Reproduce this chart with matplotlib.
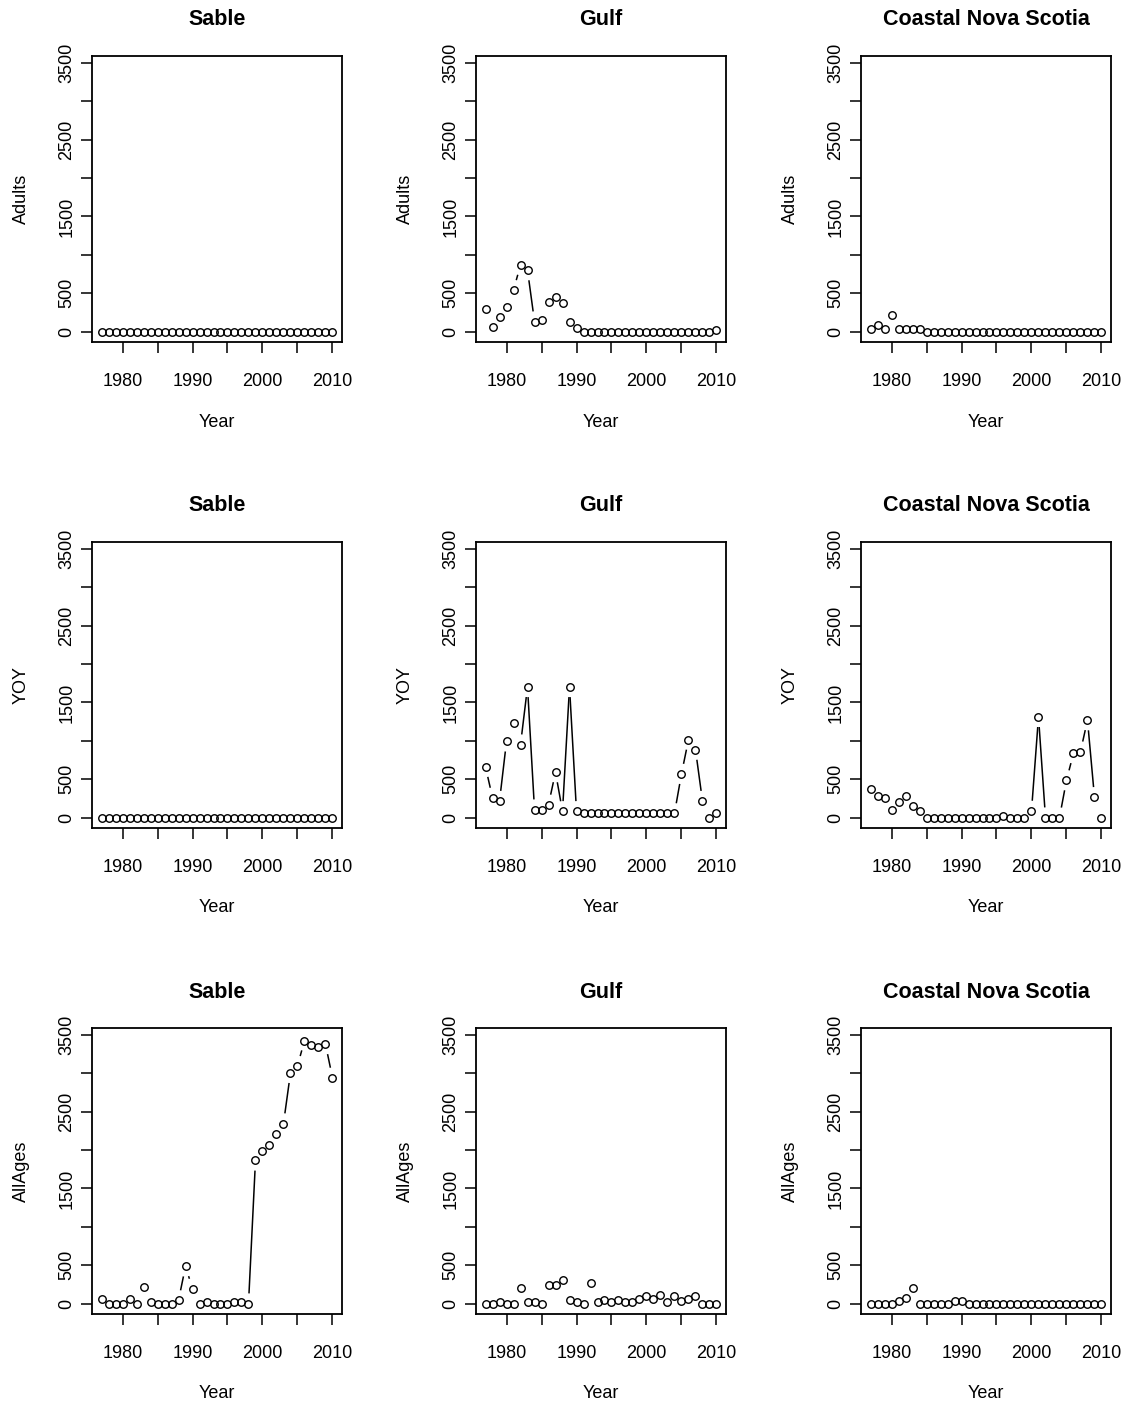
import numpy as np
import matplotlib
matplotlib.use('Agg')
import matplotlib.pyplot as plt

plt.rcParams['font.family'] = ['Liberation Sans', 'DejaVu Sans']

years = list(range(1977, 2011))

regions = ['Sable', 'Gulf', 'Coastal Nova Scotia']
stages = ['Adults', 'YOY', 'AllAges']

sable_adults = [0, 0, 0, 0, 0, 0, 0, 0, 0, 0, 0, 0, 0, 0, 0, 0, 0,
                0, 0, 0, 0, 0, 0, 0, 0, 0, 0, 0, 0, 0, 0, 0, 0, 0]
gulf_adults = [301, 64, 195, 322, 542, 869, 801, 131, 148, 390, 453, 373,
               131, 42, 0, 0, 0, 0, 0, 0, 0, 0, 0, 0, 0, 0, 0, 0, 0, 0,
               0, 0, 0, 21]
cns_adults = [35, 91, 35, 217, 35, 35, 35, 35, 0, 0, 0, 0, 0, 0, 0, 0, 0,
              0, 0, 0, 0, 0, 0, 0, 0, 0, 0, 0, 0, 0, 0, 0, 0, 0]

sable_yoy = [0, 0, 0, 0, 0, 0, 0, 0, 0, 0, 0, 0, 0, 0, 0, 0, 0,
             0, 0, 0, 0, 0, 0, 0, 0, 0, 0, 0, 0, 0, 0, 0, 0, 0]
gulf_yoy = [661, 259, 216, 994, 1236, 951, 1703, 104, 104, 169, 592, 82,
            1703, 82, 56, 56, 56, 56, 56, 56, 56, 56, 56, 56, 56, 56, 56,
            56, 570, 1016, 886, 216, 0, 60]
cns_yoy = [378, 278, 261, 104, 200, 287, 148, 87, 0, 0, 0, 0, 0, 0, 0, 0,
           0, 0, 0, 22, 0, 0, 0, 87, 1313, 0, 0, 0, 487, 839, 861, 1270,
           265, 0]

sable_all = [60, 0, 0, 0, 64, 0, 223, 17, 0, 0, 0, 43, 485, 197, 0, 26, 0,
             0, 0, 21, 21, 0, 1866, 1990, 2063, 2213, 2346, 3006, 3096,
             3427, 3375, 3337, 3380, 2942]
gulf_all = [0, 0, 21, 0, 0, 200, 21, 21, 0, 239, 239, 308, 43, 21, 0, 265,
            21, 43, 21, 43, 21, 21, 64, 94, 56, 115, 21, 94, 30, 56, 98, 0,
            0, 0]
cns_all = [0, 0, 0, 0, 38, 73, 209, 0, 0, 0, 0, 0, 30, 30, 0, 0, 0, 0, 0,
           0, 0, 0, 0, 0, 0, 0, 0, 0, 0, 0, 0, 0, 0, 0]

data = [[sable_adults, gulf_adults, cns_adults],
        [sable_yoy, gulf_yoy, cns_yoy],
        [sable_all, gulf_all, cns_all]]

yticks = [0, 500, 1000, 1500, 2000, 2500, 3000, 3500]
ytick_labels = ['0', '500', '', '1500', '', '2500', '', '3500']
xticks = [1980, 1985, 1990, 1995, 2000, 2005, 2010]
xtick_labels = ['1980', '', '1990', '', '2000', '', '2010']

W, H = 1124, 1405
lefts = [92, 476, 861]
tops = [56, 542, 1028]
aw, ah = 250, 286


def plot_b(ax, x, y, gap=11):
    # R style type="b": points with broken lines between them
    pts = ax.transData.transform(np.column_stack([x, y]))
    inv = ax.transData.inverted()
    for (x0, y0), (x1, y1) in zip(pts[:-1], pts[1:]):
        d = np.hypot(x1 - x0, y1 - y0)
        if d > 2 * gap + 1:
            ux, uy = (x1 - x0) / d, (y1 - y0) / d
            a = inv.transform((x0 + gap * ux, y0 + gap * uy))
            b = inv.transform((x1 - gap * ux, y1 - gap * uy))
            ax.plot([a[0], b[0]], [a[1], b[1]], color='black', lw=1.1)
    ax.plot(x, y, 'o', mfc='none', mec='black', ms=5.4, mew=1.0)


fig = plt.figure(figsize=(W / 100, H / 100), dpi=100)

for r in range(3):
    for c in range(3):
        ax = fig.add_axes([lefts[c] / W, (H - tops[r] - ah) / H, aw / W, ah / H])
        ax.set_xlim(1975.64, 2011.36)
        ax.set_ylim(-135, 3590)
        for s in ax.spines.values():
            s.set_linewidth(1.3)
        ax.set_xticks(xticks)
        ax.set_xticklabels(xtick_labels)
        ax.set_yticks(yticks)
        ax.set_yticklabels(ytick_labels, rotation=90, va='center')
        ax.tick_params(axis='x', length=8, width=1.1, labelsize=13, pad=14)
        ax.tick_params(axis='y', length=8, width=1.1, labelsize=13, pad=4)
        plot_b(ax, years, data[r][c])
        ax.text(0.5, 1 + 36 / ah, regions[c], transform=ax.transAxes,
                ha='center', va='center', fontsize=15.5, fontweight='bold')
        ax.set_xlabel('Year', fontsize=13)
        ax.xaxis.set_label_coords(0.5, -(422 - 342) / ah)
        ax.xaxis.label.set_va('center')
        ax.set_ylabel(stages[r], fontsize=13)
        ax.yaxis.set_label_coords(-(92 - 21) / aw, 0.5)
        ax.yaxis.label.set_va('center')

fig.savefig('out.png', dpi=100)
